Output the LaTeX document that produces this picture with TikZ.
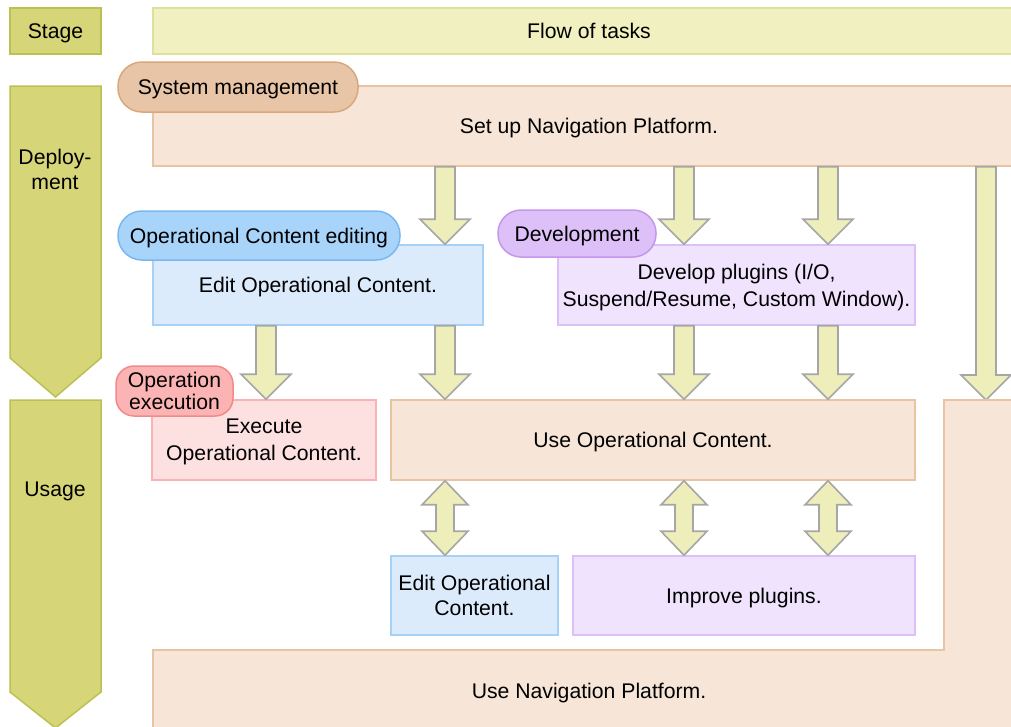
\documentclass[tikz,border=0pt]{standalone}
\usepackage{fontspec}
\setmainfont{Liberation Sans}
\usetikzlibrary{calc}
\definecolor{StageOlive}{HTML}{D6D577}
\definecolor{StageEdge}{HTML}{BCC052}
\definecolor{FlowFill}{HTML}{F0F0C0}
\definecolor{FlowEdge}{HTML}{DDE29A}
\definecolor{ArrowFill}{HTML}{EEEEBB}
\definecolor{ArrowEdge}{HTML}{A6A6A6}
\definecolor{SysFill}{HTML}{F7E6D7}
\definecolor{SysEdge}{HTML}{E9C4A4}
\definecolor{SysTag}{HTML}{E8C5A6}
\definecolor{SysTagEdge}{HTML}{D9A77C}
\definecolor{EditFill}{HTML}{DCEBFC}
\definecolor{EditEdge}{HTML}{A8D2F5}
\definecolor{EditTag}{HTML}{A8D4FA}
\definecolor{EditTagEdge}{HTML}{78B8F0}
\definecolor{DevFill}{HTML}{F0E3FD}
\definecolor{DevEdge}{HTML}{DCC0F8}
\definecolor{DevTag}{HTML}{DCC0F7}
\definecolor{DevTagEdge}{HTML}{C496EC}
\definecolor{ExecFill}{HTML}{FDE0E0}
\definecolor{ExecEdge}{HTML}{F9B3B3}
\definecolor{ExecTag}{HTML}{FCB3B3}
\definecolor{ExecTagEdge}{HTML}{F28A8A}
\tikzset{
    task/.style = {draw, rectangle, line width=1.5pt, inner sep=0pt, align=center,
        text depth=0pt},
    rolebox/.style = {draw, rectangle, rounded corners=#1, line width=1.5pt,
        inner sep=0pt, align=center, text depth=0pt},
    fat/.style = {draw=ArrowEdge, fill=ArrowFill, line width=1.6pt},
    stagearrow/.style = {draw=StageEdge, fill=StageOlive, line width=1.5pt}
}
\newcommand\fatdown[3]{%
    \draw[fat] ($(#2 -| #1)+(-10,0)$) -- ($(#3 -| #1)+(-10,-25)$)
        -- ($(#3 -| #1)+(-25,-25)$) -- (#3 -| #1) -- ($(#3 -| #1)+(25,-25)$)
        -- ($(#3 -| #1)+(10,-25)$) -- ($(#2 -| #1)+(10,0)$) -- cycle;}
\newcommand\fatboth[3]{%
    \draw[fat] (#2 -| #1) -- ($(#2 -| #1)+(23,24)$) -- ($(#2 -| #1)+(9,24)$)
        -- ($(#3 -| #1)+(9,-24)$) -- ($(#3 -| #1)+(23,-24)$) -- (#3 -| #1)
        -- ($(#3 -| #1)+(-23,-24)$) -- ($(#3 -| #1)+(-9,-24)$)
        -- ($(#2 -| #1)+(-9,24)$) -- ($(#2 -| #1)+(-23,24)$) -- cycle;}

\begin{document}
\begin{tikzpicture}[x=1pt, y=-1pt, font=\fontsize{21.2}{25}\selectfont]
            \useasboundingbox (0,0) rectangle (1011,726);
            \clip (0,0) rectangle (1011,726);
            \coordinate (c1) at (266,0);
            \coordinate (c2) at (445,0);
            \coordinate (c3) at (684,0);
            \coordinate (c4) at (828,0);
            \coordinate (c5) at (986,0);
            \draw[stagearrow] (10,86) -- (101,86) -- (101,358) -- (55.5,397) -- (10,358) -- cycle;
            \draw[stagearrow] (10,400) -- (101,400) -- (101,692) -- (55.5,728) -- (10,692) -- cycle;
            \node[task, draw=StageEdge, fill=StageOlive, minimum width=91pt, minimum height=46pt] (stage) at (55.5,31) {Stage};
            \node[align=center] (deploy) at (55,169) {Deploy-\\ment};
            \node[text depth=0pt] (usage) at (55,489) {Usage};
            \node[task, draw=FlowEdge, fill=FlowFill, minimum width=872pt, minimum height=46pt] (flow) at (589,31) {Flow of tasks};
            \node[task, draw=SysEdge, fill=SysFill, minimum width=872pt, minimum height=80pt] (setup) at (589,126) {Set up Navigation Platform.};
            \node[rolebox=24pt, draw=SysTagEdge, fill=SysTag, minimum width=240pt, minimum height=50pt] (systag) at (238,87) {System management};
            \node[task, draw=EditEdge, fill=EditFill, minimum width=330pt, minimum height=80pt] (edit) at (318,285) {Edit Operational Content.};
            \node[task, draw=DevEdge, fill=DevFill, minimum width=357pt, minimum height=80pt, font=\fontsize{21.2}{27}\selectfont] (develop) at (736.5,285) {Develop plugins (I/O,\\Suspend/Resume, Custom Window).};
            \coordinate (navtop) at (986,400);
            \fatdown{c2}{setup.south}{edit.north}
            \fatdown{c3}{setup.south}{develop.north}
            \fatdown{c4}{setup.south}{develop.north}
            \fatdown{c5}{setup.south}{navtop}
            \node[rolebox=24pt, draw=EditTagEdge, fill=EditTag, minimum width=282pt, minimum height=49pt] (edittag) at (259,235.5) {Operational Content editing};
            \node[rolebox=23pt, draw=DevTagEdge, fill=DevTag, minimum width=158pt, minimum height=47pt] (devtag) at (577,233.5) {Development};
            \draw[draw=SysEdge, fill=SysFill, line width=1.5pt] (153,740) -- (153,650) -- (944,650) -- (944,400) -- (1025,400) -- (1025,740) -- cycle;
            \node[text depth=0pt] (usenav) at (589,691) {Use Navigation Platform.};
            \node[task, draw=ExecEdge, fill=ExecFill, minimum width=224pt, minimum height=80pt, font=\fontsize{21.2}{27}\selectfont] (execute) at (264,440) {Execute\\Operational Content.};
            \node[task, draw=SysEdge, fill=SysFill, minimum width=524pt, minimum height=80pt] (useoc) at (653,440) {Use Operational Content.};
            \fatdown{c1}{edit.south}{execute.north}
            \fatdown{c2}{edit.south}{useoc.north}
            \fatdown{c3}{develop.south}{useoc.north}
            \fatdown{c4}{develop.south}{useoc.north}
            \node[rolebox=18pt, draw=ExecTagEdge, fill=ExecTag, minimum width=117pt, minimum height=50pt, font=\fontsize{21.2}{22.5}\selectfont] (exectag) at (174.5,391) {Operation\\execution};
            \node[task, draw=EditEdge, fill=EditFill, minimum width=167pt, minimum height=79pt, font=\fontsize{21.2}{25}\selectfont] (editagain) at (474.5,595.5) {Edit Operational\\Content.};
            \node[task, draw=DevEdge, fill=DevFill, minimum width=342pt, minimum height=79pt] (improve) at (744,595.5) {Improve plugins.};
            \fatboth{c2}{useoc.south}{editagain.north}
            \fatboth{c3}{useoc.south}{improve.north}
            \fatboth{c4}{useoc.south}{improve.north}
\end{tikzpicture}
\end{document}
